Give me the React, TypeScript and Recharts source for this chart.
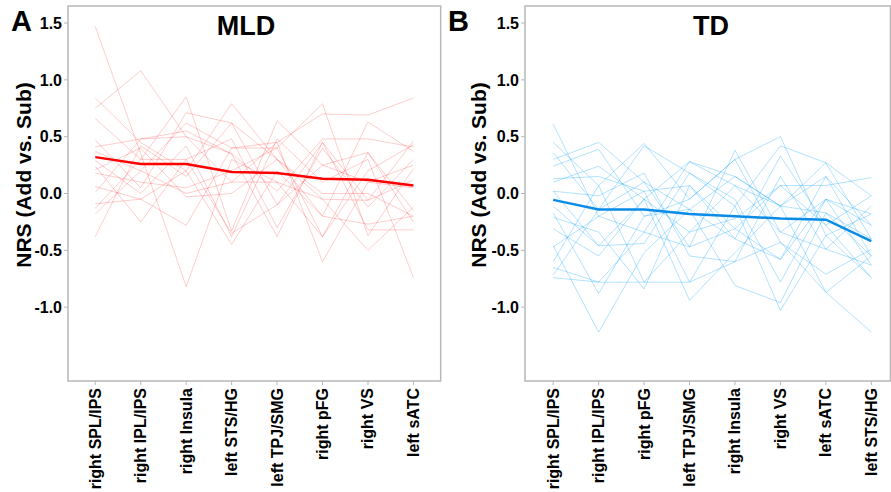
import React from 'react';
import {
  LineChart,
  Line,
  XAxis,
  YAxis,
  ReferenceArea,
} from 'recharts';

// region labels, in the order each group was plotted
const mldRegions = ['right SPL/IPS', 'right IPL/IPS', 'right Insula', 'left STS/HG', 'left TPJ/SMG', 'right pFG', 'right VS', 'left sATC'];
const tdRegions = ['right SPL/IPS', 'right IPL/IPS', 'right pFG', 'left TPJ/SMG', 'right Insula', 'right VS', 'left sATC', 'left STS/HG'];

const yTicks = [-1.0, -0.5, 0.0, 0.5, 1.0, 1.5];

// group means
const mldMean = [0.32, 0.26, 0.26, 0.19, 0.18, 0.13, 0.12, 0.07];
const tdMean = [-0.056, -0.14, -0.14, -0.18, -0.2, -0.22, -0.23, -0.42];

// individual subjects (MLD)
const mldSubjects = [
  [1.47, 0.35, -0.82, 0.3, 0.1, -0.38, 0.36, -0.15],
  [0.84, 0.45, 0.2, 0.79, 0.3, -0.2, -0.27, -0.2],
  [0.75, 1.08, 0.5, 0.1, 0.45, 0.7, 0.69, 0.84],
  [0.66, 0.3, 0.85, -0.33, 0.64, 0.25, 0.1, 0.25],
  [0.47, 0.05, 0.71, 0.62, -0.1, 0.45, -0.06, 0.46],
  [0.41, 0.48, 0.55, 0.35, 0.02, 0.48, 0.48, 0.41],
  [0.37, 0.2, 0.62, 0.4, 0.45, -0.6, 0.1, 0.05],
  [0.29, 0.0, 0.42, -0.38, 0.48, 0.1, 0.3, -0.74],
  [0.24, -0.25, 0.3, 0.48, -0.3, 0.4, -0.12, 0.3],
  [0.21, 0.4, -0.03, 0.0, 0.3, -0.05, -0.5, -0.12],
  [0.18, 0.1, 0.05, 0.2, 0.4, 0.79, -0.37, 0.22],
  [0.06, -0.05, 0.2, -0.45, 0.2, -0.2, 0.63, 0.37],
  [0.01, 0.48, 0.5, 0.35, -0.38, 0.45, -0.32, -0.32],
  [-0.09, -0.05, -0.28, 0.4, 0.4, -0.38, 0.2, 0.43],
  [-0.13, 0.3, 0.3, -0.35, -0.1, 0.25, 0.36, -0.25],
  [-0.18, 0.2, 0.0, 0.1, 0.1, -0.05, -0.06, 0.12],
  [-0.38, 0.42, 0.15, 0.62, 0.3, 0.0, 0.0, -0.2],
];

// individual subjects (TD)
const tdSubjects = [
  [0.61, -0.2, -0.34, 0.28, 0.07, -0.11, -0.17, -0.55],
  [0.45, 0.07, 0.44, -0.05, 0.3, 0.5, -0.37, -0.74],
  [0.36, -0.14, 0.42, 0.18, -0.11, 0.42, 0.27, -0.4],
  [0.3, 0.45, 0.1, -0.47, 0.38, -0.34, -0.05, -0.18],
  [0.24, 0.39, -0.2, -0.14, 0.15, -0.11, 0.15, -0.28],
  [0.13, 0.15, 0.02, 0.07, -0.4, 0.33, -0.28, -0.02],
  [0.1, 0.24, -0.05, -0.34, -0.22, 0.07, 0.07, 0.14],
  [0.02, -0.02, 0.18, -0.55, -0.6, 0.15, -0.49, -0.11],
  [-0.11, -0.46, -0.44, 0.18, -0.05, -0.78, -0.05, -0.63],
  [-0.17, -0.88, -0.2, -0.05, 0.3, -0.43, -0.71, -0.49],
  [-0.21, -0.34, -0.84, 0.07, -0.31, -0.58, 0.15, -0.55],
  [-0.31, -0.55, -0.05, -0.94, -0.52, -0.11, -0.87, -1.22],
  [-0.46, -1.22, -0.52, -0.14, -0.81, -0.96, -0.17, -0.4],
  [-0.47, -0.2, 0.02, -0.78, -0.11, -1.03, -0.37, -0.18],
  [-0.6, 0.07, -0.78, -0.34, 0.07, -0.34, -0.49, -0.63],
  [-0.65, -0.78, -0.34, -0.47, -0.31, 0.07, -0.28, -0.74],
  [-0.72, -0.14, 0.1, -0.14, -0.4, -0.58, -0.05, -0.28],
  [-0.74, -0.78, -0.78, -0.78, -0.6, -0.43, -0.87, -0.55],
  [0.02, -0.46, -0.05, 0.28, 0.15, -0.11, 0.27, -0.02],
];

const FONT = '"Liberation Sans", Arial, Helvetica, sans-serif';
const Y_DOMAIN: [number, number] = [-1.65, 1.65];
const FRAME = '#b8b8b8';

function buildRows(subjects: number[][], mean: number[]) {
  return mean.map((m, i) => {
    const row: Record<string, number> = { x: i, mean: m };
    subjects.forEach((s, k) => {
      row[`s${k}`] = s[i];
    });
    return row;
  });
}

interface PanelProps {
  letter: string;
  title: string;
  regions: string[];
  subjects: number[][];
  mean: number[];
  subjectColor: string;
  subjectOpacity: number;
  meanColor: string;
  left: number;
  width: number;
  axisWidth: number;
  xDomain: [number, number];
  letterX: number;
  titleX: number;
  labelX: number;
}

function Panel(p: PanelProps) {
  const rows = buildRows(p.subjects, p.mean);

  const renderXTick = (props: any) => {
    const { x, y, payload } = props;
    return (
      <text
        transform={`translate(${x},${y + 1}) rotate(-90)`}
        textAnchor="end"
        dominantBaseline="central"
        fill="#000"
        style={{ fontFamily: FONT, fontSize: 16, fontWeight: 'bold' }}
      >
        {p.regions[payload.value]}
      </text>
    );
  };

  return (
    <div style={{ position: 'absolute', left: p.left, top: 0, width: p.width, height: 492 }}>
      <LineChart
        width={p.width}
        height={492}
        data={rows}
        margin={{ top: 6, right: p.width - p.axisWidth - (p.xDomain[1] - p.xDomain[0]) * 45.45, bottom: 0, left: 0 }}
      >
        <ReferenceArea
          x1={p.xDomain[0]}
          x2={p.xDomain[1]}
          y1={Y_DOMAIN[0]}
          y2={Y_DOMAIN[1]}
          fill="none"
          stroke={FRAME}
          strokeWidth={1.5}
        />
        <XAxis
          type="number"
          dataKey="x"
          domain={p.xDomain}
          ticks={[0, 1, 2, 3, 4, 5, 6, 7]}
          allowDataOverflow
          axisLine={false}
          tickLine={{ stroke: FRAME }}
          tickSize={4}
          height={111}
          interval={0}
          tick={renderXTick}
        />
        <YAxis
          type="number"
          domain={Y_DOMAIN}
          ticks={yTicks}
          allowDataOverflow
          width={p.axisWidth}
          axisLine={false}
          tickLine={{ stroke: FRAME }}
          tickSize={4}
          tickFormatter={(v: number) => v.toFixed(1)}
          tick={{ fill: '#000', fontFamily: FONT, fontSize: 16, fontWeight: 'bold' }}
          label={{
            content: () => (
              <text
                transform={`translate(${p.labelX},175) rotate(-90)`}
                textAnchor="middle"
                dominantBaseline="central"
                fill="#000"
                style={{ fontFamily: FONT, fontSize: 21, fontWeight: 'bold' }}
              >
                NRS (Add vs. Sub)
              </text>
            ),
          }}
        />
        {p.subjects.map((_, k) => (
          <Line
            key={`s${k}`}
            type="linear"
            dataKey={`s${k}`}
            stroke={p.subjectColor}
            strokeOpacity={p.subjectOpacity}
            strokeWidth={1}
            dot={false}
            activeDot={false}
            isAnimationActive={false}
          />
        ))}
        <Line
          type="linear"
          dataKey="mean"
          stroke={p.meanColor}
          strokeWidth={2.5}
          dot={false}
          activeDot={false}
          isAnimationActive={false}
        />
      </LineChart>
      <div
        style={{
          position: 'absolute',
          left: p.letterX,
          top: 4,
          fontFamily: FONT,
          fontSize: 29,
          fontWeight: 'bold',
          lineHeight: '34px',
        }}
      >
        {p.letter}
      </div>
      <div
        style={{
          position: 'absolute',
          left: p.titleX - 60,
          width: 120,
          top: 11,
          textAlign: 'center',
          fontFamily: FONT,
          fontSize: 27,
          fontWeight: 'bold',
          lineHeight: '30px',
        }}
      >
        {p.title}
      </div>
    </div>
  );
}

export default function App() {
  return (
    <div style={{ position: 'absolute', left: 0, top: 0, width: 891, height: 492, background: '#fff', overflow: 'hidden' }}>
      <Panel
        letter="A"
        title="MLD"
        regions={mldRegions}
        subjects={mldSubjects}
        mean={mldMean}
        subjectColor="#ff0000"
        subjectOpacity={0.2}
        meanColor="#ff0000"
        left={0}
        width={445}
        axisWidth={68}
        xDomain={[-0.6, 7.6]}
        letterX={11}
        titleX={246}
        labelX={23}
      />
      <Panel
        letter="B"
        title="TD"
        regions={tdRegions}
        subjects={tdSubjects}
        mean={tdMean}
        subjectColor="#00a0ff"
        subjectOpacity={0.3}
        meanColor="#0a8be6"
        left={445}
        width={446}
        axisWidth={80}
        xDomain={[-0.62, 7.42]}
        letterX={3}
        titleX={266}
        labelX={33}
      />
    </div>
  );
}
